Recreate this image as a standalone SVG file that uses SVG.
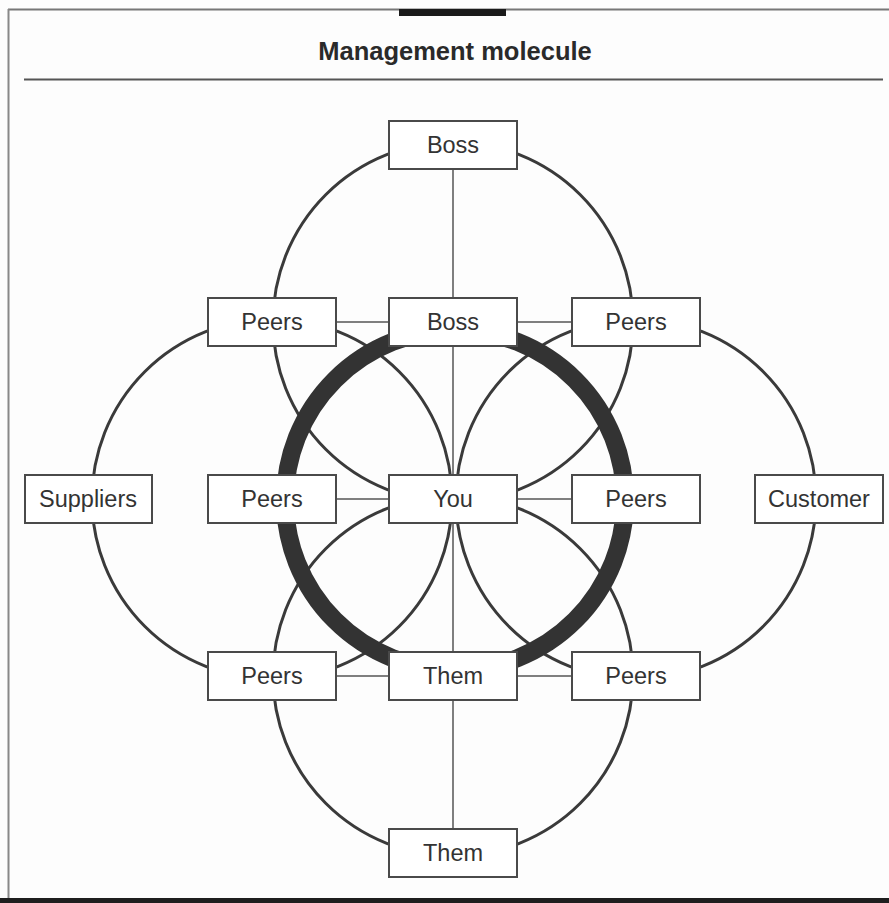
<svg xmlns="http://www.w3.org/2000/svg" width="889" height="903" viewBox="0 0 889 903">
<style>
.box{fill:#fff;stroke:#4a4a4a;stroke-width:2}
.lbl{font-family:"Liberation Sans",Arial,sans-serif;font-size:23.5px;fill:#333;text-anchor:middle}
.ring{fill:none;stroke:#3a3a3a;stroke-width:3}
.link{stroke:#555;stroke-width:1.5;fill:none}
</style>
<rect x="0" y="0" width="889" height="903" fill="#fdfdfd"/>
<g id="frame">
<line x1="8" y1="9.5" x2="889" y2="9.5" stroke="#777" stroke-width="2"/>
<line x1="8.5" y1="9" x2="8.5" y2="900" stroke="#888" stroke-width="2"/>
<rect x="399" y="9" width="107" height="7" fill="#1a1a1a"/>
<line x1="24" y1="79.5" x2="883" y2="79.5" stroke="#555" stroke-width="2"/>
<rect x="0" y="898" width="889" height="5" fill="#1e1e1e"/>
<text x="455" y="60" font-family="'Liberation Sans',Arial,sans-serif" font-size="25.5" font-weight="bold" fill="#2a2a2a" text-anchor="middle">Management molecule</text>
</g>
<g id="connectors">
<circle class="ring" cx="453" cy="322" r="180"/>
<circle class="ring" cx="272" cy="499" r="180"/>
<circle class="ring" cx="636" cy="499" r="180"/>
<circle class="ring" cx="453" cy="676" r="180"/>
<circle cx="455" cy="500" r="170" fill="none" stroke="#333" stroke-width="18"/>
<line class="link" x1="453" y1="169" x2="453" y2="298"/>
<line class="link" x1="453" y1="346" x2="453" y2="475"/>
<line class="link" x1="453" y1="523" x2="453" y2="652"/>
<line class="link" x1="453" y1="700" x2="453" y2="829"/>
<line class="link" x1="336" y1="322" x2="389" y2="322"/>
<line class="link" x1="517" y1="322" x2="572" y2="322"/>
<line class="link" x1="336" y1="499" x2="389" y2="499"/>
<line class="link" x1="517" y1="499" x2="572" y2="499"/>
<line class="link" x1="336" y1="676" x2="389" y2="676"/>
<line class="link" x1="517" y1="676" x2="572" y2="676"/>
</g>
<g id="boss-top"><rect class="box" x="389" y="121" width="128" height="48"/><text class="lbl" x="453" y="153">Boss</text></g>
<g id="peers-tl"><rect class="box" x="208" y="298" width="128" height="48"/><text class="lbl" x="272" y="330">Peers</text></g>
<g id="boss-mid"><rect class="box" x="389" y="298" width="128" height="48"/><text class="lbl" x="453" y="330">Boss</text></g>
<g id="peers-tr"><rect class="box" x="572" y="298" width="128" height="48"/><text class="lbl" x="636" y="330">Peers</text></g>
<g id="suppliers"><rect class="box" x="25" y="475" width="127" height="48"/><text class="lbl" x="88" y="507">Suppliers</text></g>
<g id="peers-ml"><rect class="box" x="208" y="475" width="128" height="48"/><text class="lbl" x="272" y="507">Peers</text></g>
<g id="you"><rect class="box" x="389" y="475" width="128" height="48"/><text class="lbl" x="453" y="507">You</text></g>
<g id="peers-mr"><rect class="box" x="572" y="475" width="128" height="48"/><text class="lbl" x="636" y="507">Peers</text></g>
<g id="customer"><rect class="box" x="755" y="475" width="128" height="48"/><text class="lbl" x="819" y="507">Customer</text></g>
<g id="peers-bl"><rect class="box" x="208" y="652" width="128" height="48"/><text class="lbl" x="272" y="684">Peers</text></g>
<g id="them-mid"><rect class="box" x="389" y="652" width="128" height="48"/><text class="lbl" x="453" y="684">Them</text></g>
<g id="peers-br"><rect class="box" x="572" y="652" width="128" height="48"/><text class="lbl" x="636" y="684">Peers</text></g>
<g id="them-bottom"><rect class="box" x="389" y="829" width="128" height="48"/><text class="lbl" x="453" y="861">Them</text></g>
</svg>
